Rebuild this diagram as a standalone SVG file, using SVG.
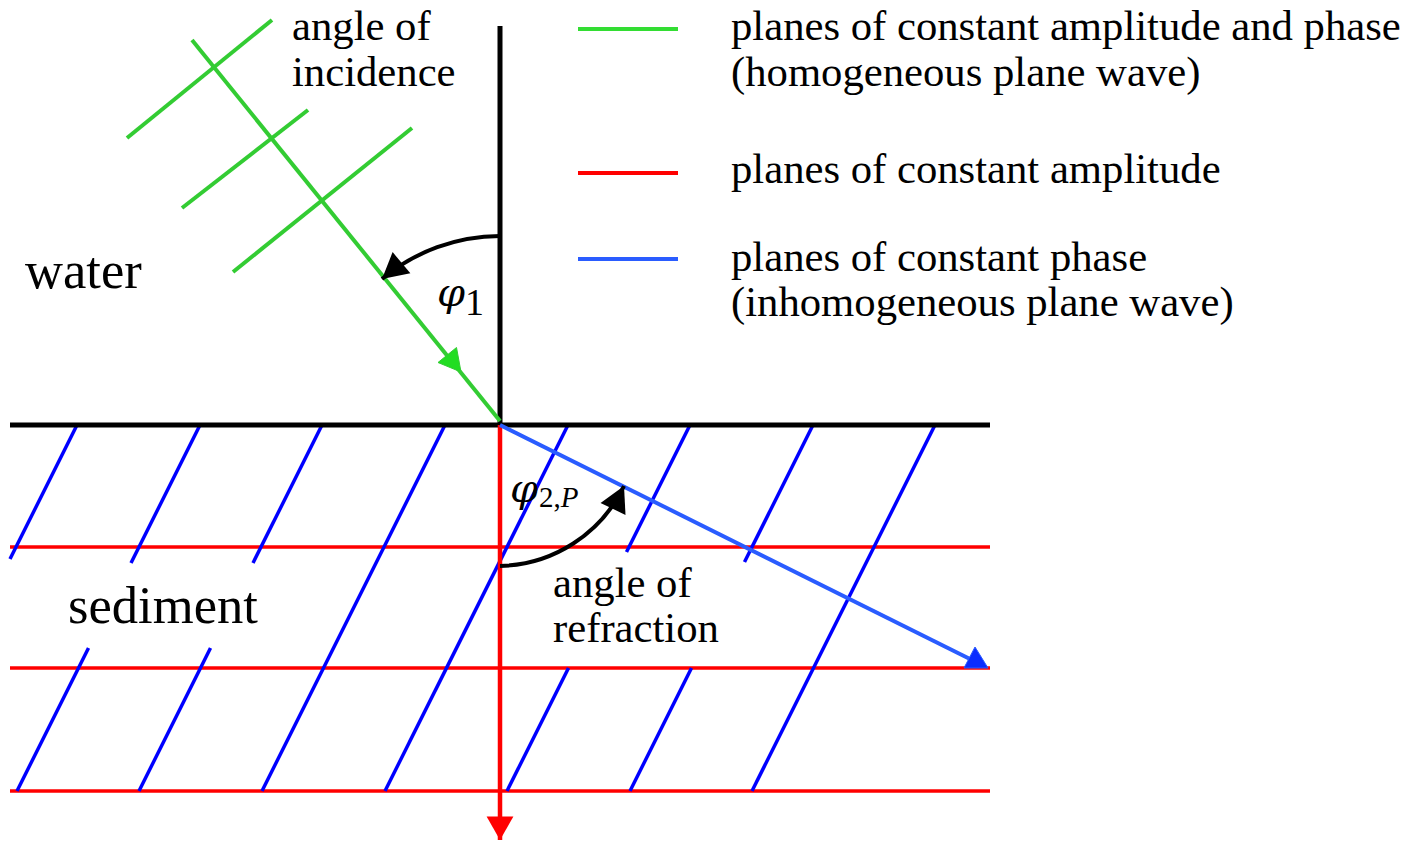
<svg xmlns="http://www.w3.org/2000/svg" width="1412" height="841" viewBox="0 0 1412 841">
<defs>
<style>
text{font-family:"Liberation Serif","Times New Roman",serif;fill:#000}
.lbl{font-size:42.7px}
.big{font-size:52.6px}
.sym{font-family:"DejaVu Serif","Liberation Serif",serif;font-size:40px;font-style:italic}
.blk{stroke:#000;stroke-width:5;fill:none}
.grn{stroke:#33cc33;stroke-width:4;fill:none}
.red{stroke:#ff0000;stroke-width:3.5;fill:none}
.blu{stroke:#0000ff;stroke-width:3.5;fill:none}
.ray{stroke:#2a5cff;stroke-width:4;fill:none}
.arc{stroke:#000;stroke-width:4;fill:none}
</style>
<marker id="ahBlack" markerUnits="userSpaceOnUse" markerWidth="30" markerHeight="30" viewBox="-24 -13 26 26" refX="0" refY="0" orient="auto">
<path d="M0,0 L-22,-12 L-22,12 Z" fill="#000"/>
</marker>
<marker id="ahRed" markerUnits="userSpaceOnUse" markerWidth="30" markerHeight="30" viewBox="-24 -14 26 28" refX="0" refY="0" orient="auto">
<path d="M0,0 L-22,-12.5 L-22,12.5 Z" fill="#ff0000"/>
</marker>
</defs>
<rect width="1412" height="841" fill="#fff"/>

<g id="sediment-grid">
<g id="amplitude-planes">
<line class="red" x1="10" y1="547" x2="990" y2="547"/>
<line class="red" x1="10" y1="668" x2="990" y2="668"/>
<line class="red" x1="10" y1="791" x2="990" y2="791"/>
</g>
<g id="phase-planes">
<line class="blu" x1="77" y1="425" x2="10" y2="559"/>
<line class="blu" x1="200" y1="425" x2="131" y2="563"/>
<line class="blu" x1="88.5" y1="648" x2="17" y2="791"/>
<line class="blu" x1="322" y1="425" x2="253" y2="563"/>
<line class="blu" x1="210.5" y1="648" x2="139" y2="791"/>
<line class="blu" x1="445" y1="425" x2="262" y2="791"/>
<line class="blu" x1="568" y1="425" x2="385" y2="791"/>
<line class="blu" x1="690" y1="425" x2="626.5" y2="552"/>
<line class="blu" x1="568.5" y1="668" x2="507" y2="791"/>
<line class="blu" x1="813" y1="425" x2="744.5" y2="562"/>
<line class="blu" x1="691.5" y1="668" x2="630" y2="791"/>
<line class="blu" x1="935" y1="425" x2="752" y2="791"/>
</g>
</g>

<g id="wavefronts">
<line class="grn" x1="127" y1="138" x2="272" y2="20"/>
<line class="grn" x1="182" y1="208" x2="308" y2="110"/>
<line class="grn" x1="233" y1="272" x2="412" y2="128"/>
</g>

<g id="connectors">
<line class="blk" x1="500" y1="26" x2="500" y2="423"/>
<line class="blk" x1="10" y1="425" x2="990" y2="425"/>
<line class="grn" x1="192" y1="40" x2="500" y2="421"/>
<polygon points="461,372 456.5,347.5 438,362.5" fill="#22dd22" stroke="#33cc33" stroke-width="1"/>
<line stroke="#ff0000" stroke-width="4.5" x1="500" y1="425" x2="500" y2="840" marker-end="url(#ahRed)"/>
<line class="ray" x1="500" y1="425" x2="972" y2="660"/>
<polygon points="964,668 988,668 975,647" fill="#0a2cff" stroke="#2a5cff" stroke-width="1"/>
<path class="arc" d="M500,236 A185,185 0 0 0 382,279" marker-end="url(#ahBlack)"/>
<path class="arc" d="M500,566 A141,141 0 0 0 624,486" marker-end="url(#ahBlack)"/>
</g>

<g id="labels">
<text class="lbl" x="292" y="40">angle of</text>
<text class="lbl" x="292" y="86">incidence</text>
<text class="big" x="25" y="288">water</text>
<text class="big" x="68" y="623">sediment</text>
<text class="lbl" x="553" y="597">angle of</text>
<text class="lbl" x="553" y="642">refraction</text>
<text class="sym" x="437" y="306">φ</text>
<text x="465" y="315" font-size="38px">1</text>
<text class="sym" x="510" y="502">φ</text>
<text x="539" y="507" font-size="29px">2,<tspan font-style="italic">P</tspan></text>
</g>

<g id="legend">
<g id="legend-green">
<line stroke="#33dd33" stroke-width="4" x1="578" y1="29" x2="678" y2="29"/>
<text class="lbl" x="731" y="40">planes of constant amplitude and phase</text>
<text class="lbl" x="731" y="86">(homogeneous plane wave)</text>
</g>
<g id="legend-red">
<line stroke="#ff0000" stroke-width="4" x1="578" y1="173" x2="678" y2="173"/>
<text class="lbl" x="731" y="183">planes of constant amplitude</text>
</g>
<g id="legend-blue">
<line stroke="#2a5cff" stroke-width="4" x1="578" y1="259" x2="678" y2="259"/>
<text class="lbl" x="731" y="271">planes of constant phase</text>
<text class="lbl" x="731" y="316">(inhomogeneous plane wave)</text>
</g>
</g>
</svg>
